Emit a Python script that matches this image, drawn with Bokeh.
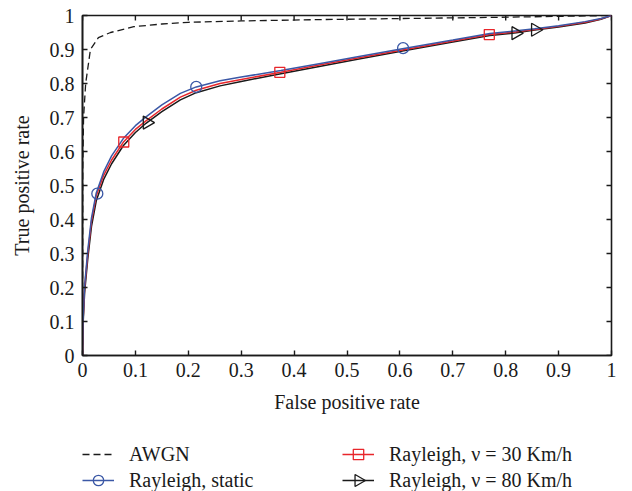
import math
from bokeh.plotting import figure
from bokeh.layouts import column
from bokeh.models import Range1d, FixedTicker, Legend, LegendItem
from bokeh.embed import file_html
from bokeh.resources import INLINE

# ---------------- data ----------------
tick_values = [0, 0.1, 0.2, 0.3, 0.4, 0.5, 0.6, 0.7, 0.8, 0.9, 1]
tick_labels = ["0", "0.1", "0.2", "0.3", "0.4", "0.5", "0.6", "0.7", "0.8", "0.9", "1"]

series_names = ["AWGN", "Rayleigh, static", "Rayleigh, ν = 30 Km/h", "Rayleigh, ν = 80 Km/h"]

awgn_x = [0, 0.0005, 0.002, 0.006, 0.015, 0.03, 0.053, 0.097, 0.15, 0.2, 0.3, 0.45, 0.6, 0.8, 1.0]
awgn_y = [0, 0.55, 0.70, 0.80, 0.90, 0.935, 0.95, 0.967, 0.975, 0.98, 0.984, 0.988, 0.991, 0.995, 1.0]

ray_x = [0, 0.001, 0.004, 0.01, 0.017, 0.026, 0.04, 0.055, 0.077, 0.1, 0.12, 0.15, 0.185,
         0.215, 0.26, 0.3, 0.375, 0.45, 0.52, 0.61, 0.7, 0.77, 0.82, 0.855, 0.9, 0.95, 0.98, 1.0]
static_y = [0, 0.10, 0.205, 0.31, 0.405, 0.478, 0.54, 0.587, 0.638, 0.676, 0.702, 0.737, 0.771,
            0.79, 0.808, 0.819, 0.838, 0.859, 0.879, 0.904, 0.928, 0.947, 0.955, 0.961, 0.97, 0.982, 0.991, 1.0]
v30_y = [0, 0.10, 0.20, 0.30, 0.395, 0.47, 0.53, 0.575, 0.627, 0.665, 0.69, 0.725, 0.76,
         0.78, 0.80, 0.812, 0.833, 0.855, 0.875, 0.90, 0.925, 0.944, 0.952, 0.959, 0.968, 0.98, 0.99, 1.0]
v80_y = [0, 0.09, 0.185, 0.285, 0.38, 0.455, 0.518, 0.564, 0.617, 0.656, 0.683, 0.717, 0.752,
         0.773, 0.793, 0.806, 0.829, 0.851, 0.871, 0.897, 0.922, 0.941, 0.949, 0.957, 0.966, 0.978, 0.989, 1.0]

static_mx = [0.028, 0.215, 0.606]
static_my = [0.476, 0.79, 0.904]
v30_mx = [0.078, 0.373, 0.769]
v30_my = [0.628, 0.833, 0.944]
v80_mx = [0.122, 0.819, 0.856]
v80_my = [0.685, 0.948, 0.958]

# ---------------- style ----------------
BLUE = "#3B58A6"
RED = "#E8262B"
BLACK = "#1a1a1a"
FONT = "Liberation Serif"
FS = "20px"

STYLES = [
    dict(line=dict(line_color=BLACK, line_width=1.3, line_dash="7 4"), marker=None),
    dict(line=dict(line_color=BLUE, line_width=1.5),
         marker=dict(marker="circle", size=11, fill_color=None, line_color=BLUE, line_width=1.3)),
    dict(line=dict(line_color=RED, line_width=1.5),
         marker=dict(marker="square", size=10, fill_color=None, line_color=RED, line_width=1.3)),
    dict(line=dict(line_color=BLACK, line_width=1.5),
         marker=dict(marker="triangle", angle=-math.pi / 2, size=13, fill_color=None,
                     line_color=BLACK, line_width=1.3)),
]
SERIES = [
    (awgn_x, awgn_y, None, None),
    (ray_x, static_y, static_mx, static_my),
    (ray_x, v30_y, v30_mx, v30_my),
    (ray_x, v80_y, v80_mx, v80_my),
]

p = figure(frame_width=529, frame_height=340,
           min_border_left=82, min_border_right=18, min_border_top=15, min_border_bottom=86,
           x_range=Range1d(0, 1), y_range=Range1d(0, 1),
           output_backend="svg", toolbar_location=None,
           x_axis_label="False positive rate", y_axis_label="True positive rate")
p.grid.visible = False
p.outline_line_color = BLACK
p.outline_line_width = 1.6
p.background_fill_color = "white"
p.border_fill_color = "white"

overrides = {t: lab for t, lab in zip(tick_values, tick_labels)}

for ax in (p.xaxis[0], p.yaxis[0]):
    ax.ticker = FixedTicker(ticks=tick_values)
    ax.axis_line_color = BLACK
    ax.axis_line_width = 1.6
    ax.major_tick_line_color = BLACK
    ax.major_tick_line_width = 1.4
    ax.major_tick_in = 5
    ax.major_tick_out = 0
    ax.minor_tick_line_color = None
    ax.major_label_text_font = FONT
    ax.major_label_text_font_size = FS
    ax.major_label_text_color = BLACK
    ax.major_label_overrides = overrides
    ax.axis_label_text_font = FONT
    ax.axis_label_text_font_style = "normal"
    ax.axis_label_text_font_size = FS
    ax.axis_label_text_color = BLACK

p.xaxis[0].major_label_standoff = 7
p.xaxis[0].axis_label_standoff = 11
p.yaxis[0].major_label_standoff = 8
p.yaxis[0].axis_label_standoff = 14

# inward ticks on the top and right edges (outer half of each dash is clipped by the frame)
n = len(tick_values)
p.scatter(tick_values, [1] * n, marker="dash", angle=math.pi / 2, size=10,
          line_color=BLACK, line_width=1.4)
p.scatter([1] * n, tick_values, marker="dash", angle=0, size=10,
          line_color=BLACK, line_width=1.4)

# ---------------- curves ----------------
for i in (0, 3, 2, 1):
    xs, ys, _, _ = SERIES[i]
    p.line(xs, ys, **STYLES[i]["line"])
for i in (3, 2, 1):
    _, _, mx, my = SERIES[i]
    p.scatter(mx, my, **STYLES[i]["marker"])

# ---------------- legend (own strip below the chart) ----------------
GLYPH_W, ROW_H, STANDOFF, LABEL_W = 32, 26, 15, 213
LG_W, LG_H = 540, 52
X0, Y0 = 100, 100   # strip in pixel units; the series' own values (0..1) stay out of view
lg = figure(frame_width=LG_W, frame_height=LG_H, min_border_left=82, min_border_right=10,
            min_border_top=0, min_border_bottom=0,
            x_range=Range1d(X0, X0 + LG_W), y_range=Range1d(Y0, Y0 + LG_H),
            x_axis_type=None, y_axis_type=None,
            output_backend="svg", toolbar_location=None)
lg.grid.visible = False
lg.outline_line_color = None
lg.background_fill_color = "white"
lg.border_fill_color = "white"

items = []
for k, (name, st, (xs, ys, mx, my)) in enumerate(zip(series_names, STYLES, SERIES)):
    rs = [lg.line(xs, ys, **st["line"])]
    mk = st["marker"]
    if mk is not None:
        if mk.get("angle"):
            # the legend key does not rotate markers: draw the rotated key at its slot
            col, row = divmod(k, 2)
            kx = X0 + col * (GLYPH_W + STANDOFF + LABEL_W) + GLYPH_W / 2
            ky = Y0 + LG_H - (row + 0.5) * ROW_H
            kst = dict(mk, size=12)
            lg.scatter([kx], [ky], **kst)
        else:
            rs.append(lg.scatter(mx, my, **mk))
    items.append(LegendItem(label=name, renderers=rs))

legend = Legend(items=items, location="top_left", orientation="vertical", nrows=2,
                glyph_width=GLYPH_W, glyph_height=ROW_H, label_height=ROW_H, label_width=LABEL_W,
                label_standoff=STANDOFF, spacing=0, padding=0, margin=0,
                label_text_font=FONT, label_text_font_size=FS, label_text_color=BLACK,
                border_line_color=None, background_fill_alpha=0)
lg.add_layout(legend)

layout = column(p, lg, spacing=0)
open("out.html", "w").write(file_html(layout, INLINE))
